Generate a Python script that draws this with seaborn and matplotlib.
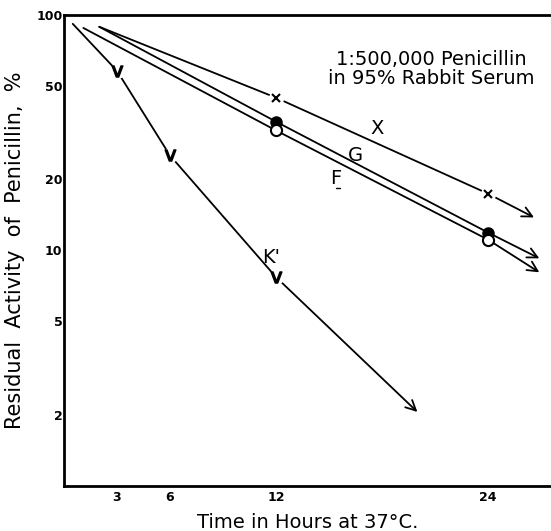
import numpy as np
import pandas as pd
import matplotlib
matplotlib.use("Agg")
import matplotlib.pyplot as plt
import seaborn as sns

# series: start point, marked points, arrow tip
time_K = [0.5, 3, 6, 12, 20]
act_K = [91.6, 57.9, 25.3, 7.7, 2.06]
time_X = [2.0, 12, 24, 26.6]
act_X = [89, 44.5, 17.4, 13.8]
time_G = [2.0, 12, 24, 26.9]
act_G = [89, 35.2, 11.9, 9.25]
time_F = [1.1, 12, 24, 26.9]
act_F = [88, 32.3, 11.1, 8.07]

x_ticks = [3, 6, 12, 24]
y_ticks = [2, 5, 10, 20, 50, 100]
y_tick_labels = ["2", "5", "10", "20", "50", "100"]

curve_labels = ["X", "G", "F", "K'"]
label_pos_x = [17.7, 16.5, 15.4, 11.7]
label_pos_y = [33.0, 25.3, 20.2, 9.3]

sns.set_theme(style="white")
plt.rcParams['font.family'] = ['DejaVu Sans']
plt.rcParams['text.color'] = 'black'
plt.rcParams['axes.labelcolor'] = 'black'

fig = plt.figure(figsize=(5.51, 5.31), dpi=100)
ax = fig.add_axes([0.116, 0.085, 0.884, 0.887])

series = {
    "K": (time_K, act_K, dict(marker=r"$\mathsf{v}$", ms=8, mfc="black", mec="black"), True),
    "X": (time_X, act_X, dict(marker="x", ms=6, mew=1.5, mec="black"), True),
    "G": (time_G, act_G, dict(marker="o", ms=8, mfc="black", mec="black"), False),
    "F": (time_F, act_F, dict(marker="o", ms=8, mfc="white", mec="black", mew=1.5), False),
}

for name, (t, a, mk, gap) in series.items():
    df = pd.DataFrame({"t": t, "a": a})
    # line without the last segment, the arrow draws it
    sns.lineplot(data=df.iloc[:-1], x="t", y="a", ax=ax, color="black",
                 lw=1.3, sort=False, estimator=None)
    ax.annotate("", xy=(t[-1], a[-1]), xytext=(t[-2], a[-2]),
                arrowprops=dict(arrowstyle="->", color="black", lw=1.3,
                                mutation_scale=18, shrinkA=0, shrinkB=0))
    if gap:
        # white patch under the marker breaks the line like the drawing
        ax.plot(t[1:-1], a[1:-1], ls="none", marker="o", ms=11, mfc="white",
                mec="none", zorder=4)
    ax.plot(t[1:-1], a[1:-1], ls="none", zorder=5, **mk)

for lab, lx, ly in zip(curve_labels, label_pos_x, label_pos_y):
    ax.text(lx, ly, lab, fontsize=14, ha="center", va="center")
ax.plot([15.4, 15.6], [18.4, 18.4], color="black", lw=1)

ax.text(0.755, 0.885, "1:500,000 Penicillin\nin 95% Rabbit Serum", transform=ax.transAxes,
        ha="center", va="center", fontsize=14, linespacing=1.05)

ax.set_yscale("log")
ax.set_xlim(0, 27.56)
ax.set_ylim(1, 100)
ax.set_yticks(y_ticks)
ax.set_yticklabels(y_tick_labels)
ax.minorticks_off()
ax.set_xticks(x_ticks)
ax.set_xticklabels([str(v) for v in x_ticks])
ax.tick_params(direction="in", length=5, width=1.5, colors="black", labelsize=9)
ax.tick_params(axis="y", pad=1)
ax.tick_params(axis="x", pad=4)
for lab in ax.get_xticklabels() + ax.get_yticklabels():
    lab.set_fontweight("bold")

for s in ["left", "bottom", "top"]:
    ax.spines[s].set_linewidth(2)
    ax.spines[s].set_color("black")
ax.spines["right"].set_visible(False)

ax.set_xlabel("Time in Hours at 37°C.", fontsize=14, labelpad=6)
ax.set_ylabel("Residual  Activity  of  Penicillin,  %", fontsize=15, labelpad=8)

fig.savefig("out.png", dpi=100)
